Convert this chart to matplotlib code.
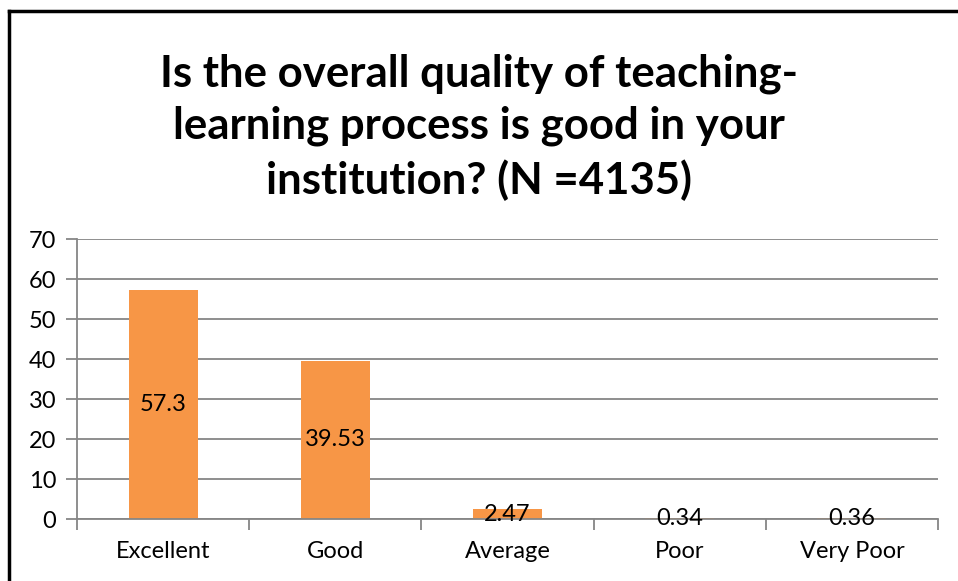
import matplotlib
matplotlib.use("Agg")
import matplotlib.pyplot as plt
from matplotlib.lines import Line2D

categories = ["Excellent", "Good", "Average", "Poor", "Very Poor"]
values = [57.3, 39.53, 2.47, 0.34, 0.36]
labels = ["57.3", "39.53", "2.47", "0.34", "0.36"]
yticks = [0, 10, 20, 30, 40, 50, 60, 70]
title = "Is the overall quality of teaching-\nlearning process is good in your\ninstitution? (N =4135)"

plt.rcParams['font.family'] = ['Lato', 'DejaVu Sans']

W, H = 958, 581
fig = plt.figure(figsize=(W / 100, H / 100), dpi=100)
ax = fig.add_axes([77 / W, 1 - 519 / H, (938 - 77) / W, (519 - 239) / H])

x = list(range(len(categories)))
ax.bar(x, values, width=0.4, color="#F79646", zorder=2)
for xi, v, lab in zip(x, values, labels):
    ax.text(xi, v / 2, lab, ha="center", va="center", fontsize=17, color="black", zorder=3)

ax.set_xlim(-0.5, len(categories) - 0.5)
ax.set_ylim(0, 70)
ax.set_yticks(yticks)
ax.set_yticklabels([str(t) for t in yticks], fontsize=17)
ax.yaxis.grid(True, color="#868686", linewidth=1.3, zorder=1)
ax.set_axisbelow(True)

for s in ["top", "right"]:
    ax.spines[s].set_visible(False)
ax.spines["left"].set_color("#868686")
ax.spines["bottom"].set_color("#868686")
ax.spines["left"].set_linewidth(1.3)
ax.spines["bottom"].set_linewidth(1.3)
ax.tick_params(axis="y", length=8, color="#868686", width=1.3, pad=7)

# category labels centered, tick marks at category boundaries
ax.set_xticks(x)
ax.set_xticklabels(categories, fontsize=17)
ax.tick_params(axis="x", length=0, pad=16)
ax.set_xticks([i - 0.5 for i in range(len(categories) + 1)], minor=True)
ax.tick_params(axis="x", which="minor", length=8, color="#868686", width=1.3)

fig.text(0.5, 1 - 127 / H, title, ha="center", va="center", fontsize=31.5,
         fontweight="bold", linespacing=1.37)

# frame around the chart (top and left visible)
fig.add_artist(Line2D([8.5 / W, 1], [1 - 10.5 / H, 1 - 10.5 / H], color="black", linewidth=2.5,
                      transform=fig.transFigure))
fig.add_artist(Line2D([8.5 / W, 8.5 / W], [0, 1 - 10.5 / H], color="black", linewidth=2.5,
                      transform=fig.transFigure))

fig.savefig("out.png", dpi=100)
